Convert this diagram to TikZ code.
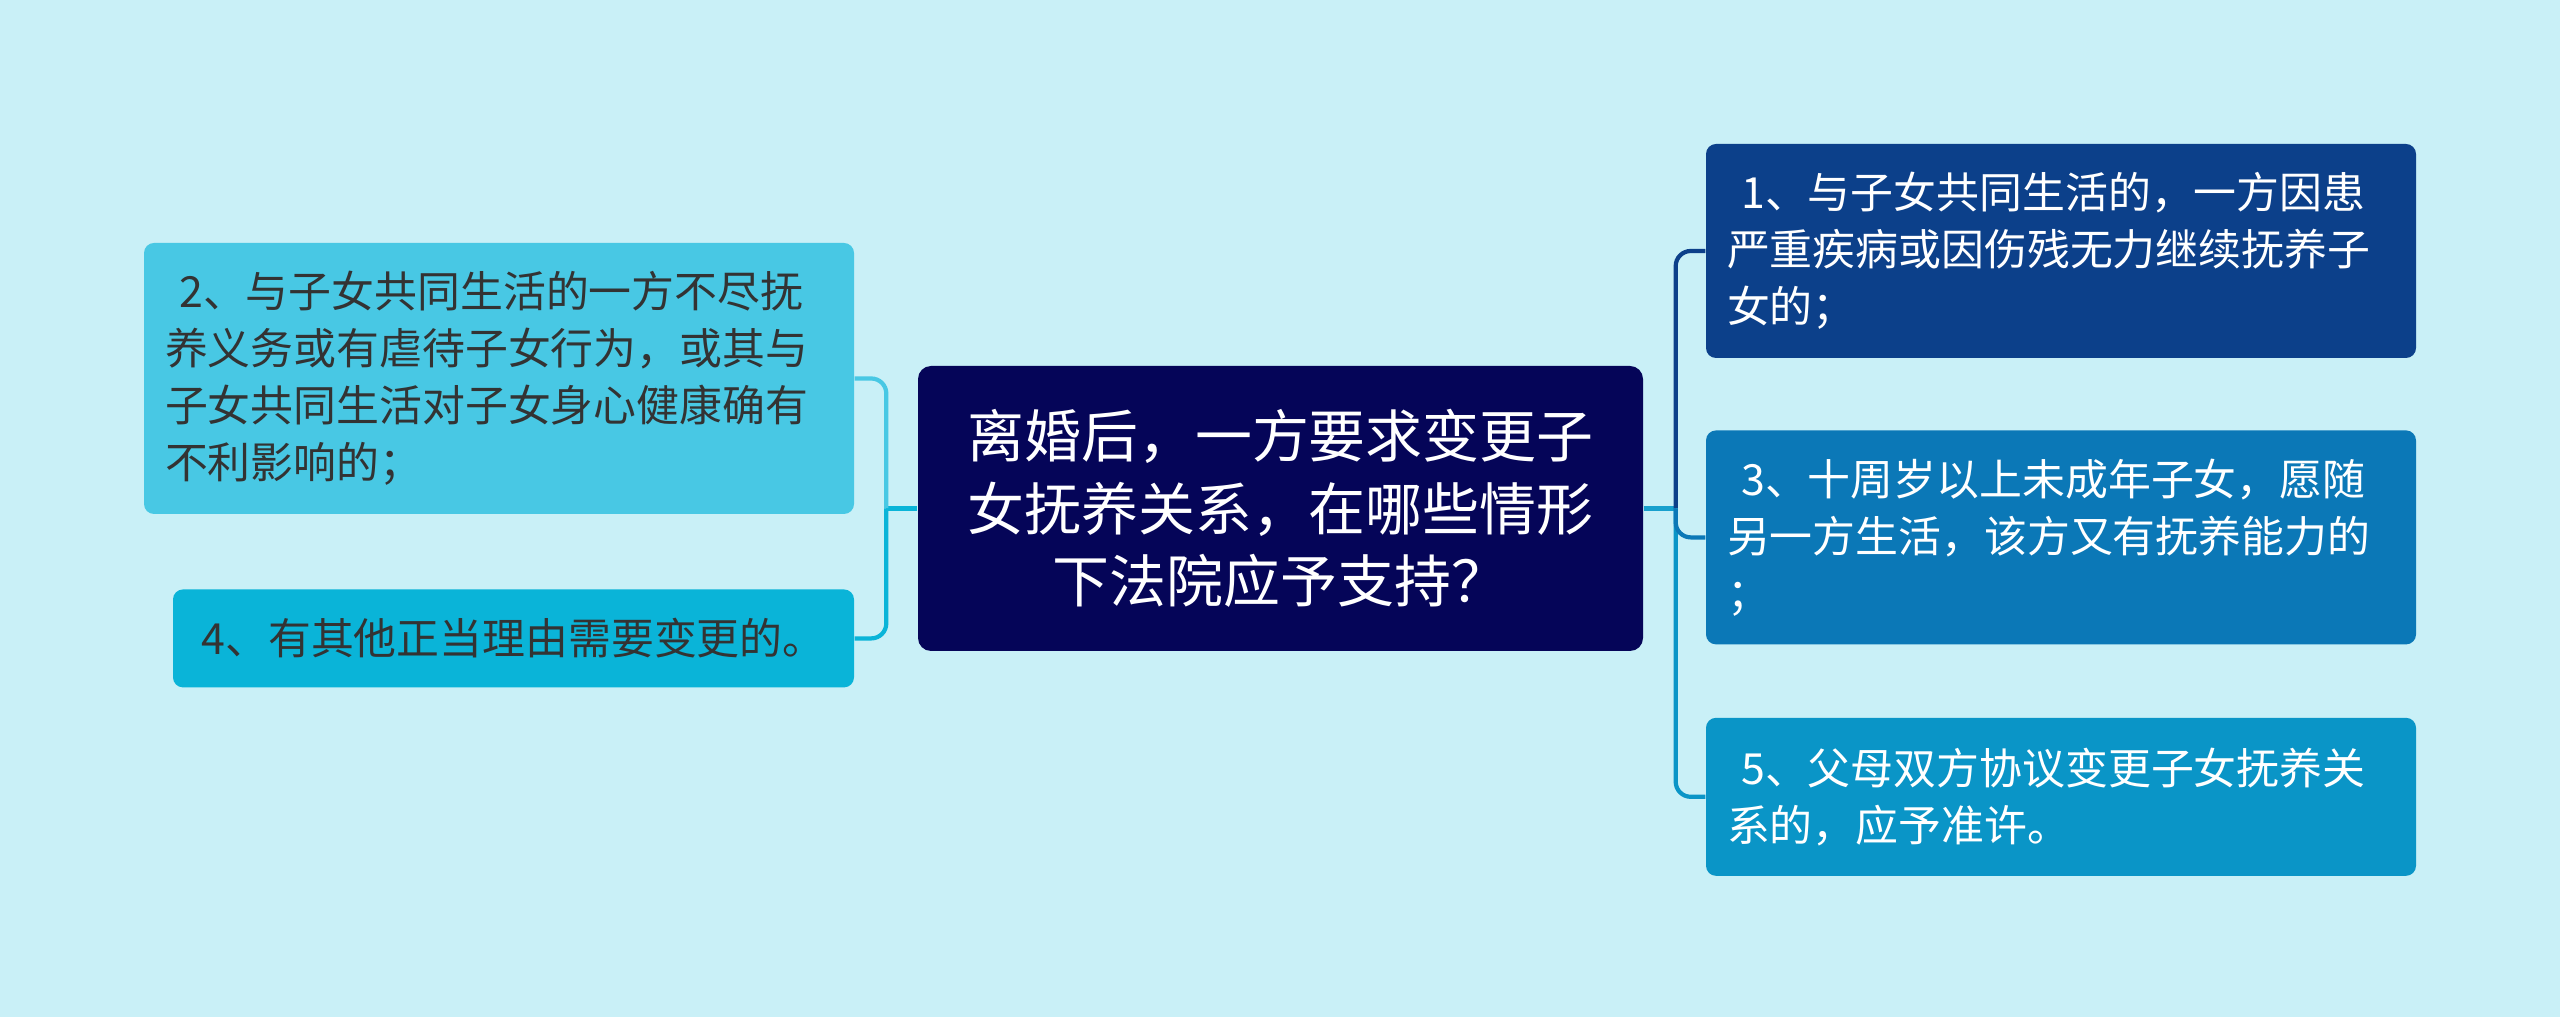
\documentclass[tikz,border=0pt]{standalone}
\usepackage{fontspec}
\newfontfamily\cjk{Noto Sans CJK SC}
\usetikzlibrary{positioning, calc}
\definecolor{bgcyan}{RGB}{201,240,247}
\definecolor{rootnavy}{RGB}{5,5,88}
\definecolor{leafone}{RGB}{12,64,138}
\definecolor{leafthree}{RGB}{11,120,183}
\definecolor{leaffive}{RGB}{10,149,199}
\definecolor{leaftwo}{RGB}{72,200,228}
\definecolor{leaffour}{RGB}{10,180,216}
\definecolor{stubblue}{RGB}{24,160,205}
\definecolor{darktext}{RGB}{51,51,51}
\tikzset{
  root/.style={rectangle, fill=rootnavy, text=white, rounded corners=0.13cm,
    minimum width=7.25cm, minimum height=2.85cm, text width=6.9cm,
    font=\cjk\fontsize{16.2}{20.7}\selectfont, align=center},
  leaf/.style={rectangle, rounded corners=0.1cm, minimum width=7.1cm,
    text width=6.68cm, inner xsep=0.21cm,
    font=\cjk\fontsize{12.2}{16.2}\selectfont, align=left},
  link/.style={line width=1.2pt, rounded corners=0.15cm},
}

\begin{document}
\begin{tikzpicture}
    \fill[bgcyan] (0,0) rectangle (25.6,-10.17);

    \node (center) [root] at (12.805,-5.085) {离婚后，一方要求变更子\\女抚养关系，在哪些情形\\下法院应予支持？};

    \node (one) [leaf, fill=leafone, text=white, minimum height=2.14cm] at (20.61,-2.51)
      {~1、与子女共同生活的，一方因患\\严重疾病或因伤残无力继续抚养子\\女的；};
    \node (three) [leaf, fill=leafthree, text=white, minimum height=2.14cm, below=0.71cm of one]
      {~3、十周岁以上未成年子女，愿随\\另一方生活，该方又有抚养能力的\\；};
    \node (five) [leaf, fill=leaffive, text=white, minimum height=1.58cm, below=0.72cm of three]
      {~5、父母双方协议变更子女抚养关\\系的，应予准许。};

    \node (two) [leaf, fill=leaftwo, text=darktext, minimum height=2.71cm] at (4.99,-3.785)
      {~2、与子女共同生活的一方不尽抚\\养义务或有虐待子女行为，或其与\\子女共同生活对子女身心健康确有\\不利影响的；};
    \node (four) [leaf, fill=leaffour, text=darktext, minimum height=0.98cm, minimum width=6.81cm,
      text width=6.39cm, align=center, below=0.74cm of two.south east, anchor=north east]
      {4、有其他正当理由需要变更的。};

    \coordinate (lj) at ($(center.west)+(-0.31,0)$);
    \coordinate (rj) at ($(center.east)+(0.32,0)$);

    \draw[link, leaffour] (center.west) -- (lj);
    \draw[link, leaftwo] (lj) |- (two.east);
    \draw[link, leaffour] (lj) |- (four.east);

    \draw[link, stubblue] (center.east) -- (rj);
    \draw[link, leafone] (rj) |- (one.west);
    \draw[link, leaffive] (rj) |- (five.west);
    \draw[link, leafthree] (rj) |- (three.west);
\end{tikzpicture}
\end{document}
